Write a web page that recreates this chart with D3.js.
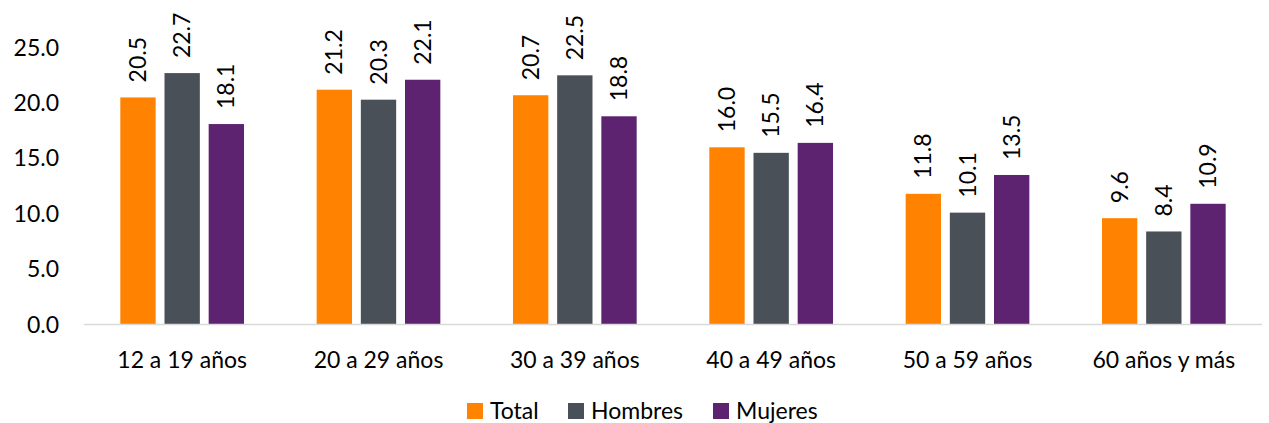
<html>
<head>
<meta charset="utf-8">
<script src="https://cdn.jsdelivr.net/npm/d3@7"></script>
<style>
body { margin: 0; background: white; }
text { font-family: Lato, "Open Sans", sans-serif; fill: #000; }
</style>
</head>
<body>
<svg width="1269" height="423"></svg>
<script>
var categories = ["12 a 19 años", "20 a 29 años", "30 a 39 años", "40 a 49 años", "50 a 59 años", "60 años y más"];
var seriesNames = ["Total", "Hombres", "Mujeres"];
var total = [20.5, 21.2, 20.7, 16.0, 11.8, 9.6];
var hombres = [22.7, 20.3, 22.5, 15.5, 10.1, 8.4];
var mujeres = [18.1, 22.1, 18.8, 16.4, 13.5, 10.9];
var yTicks = [0, 5, 10, 15, 20, 25];

var colors = {"Total": "#FF8200", "Hombres": "#4A5057", "Mujeres": "#5E2370"};
var values = {"Total": total, "Hombres": hombres, "Mujeres": mujeres};

var svg = d3.select("svg");
var left = 84, right = 1262, bottom = 324.5;
var fs = "23px";

var y = d3.scaleLinear().domain([0, 20]).range([bottom, 103]);
var x0 = d3.scaleBand().domain(categories).range([left, right]).paddingInner(0.37).paddingOuter(0.185);
var x1 = d3.scaleBand().domain(seriesNames).range([0, x0.bandwidth()]).paddingInner(0.2);

// y tick labels
svg.append("g").selectAll("text")
  .data(yTicks)
  .enter().append("text")
  .attr("x", 59)
  .attr("y", function(d) { return y(d); })
  .attr("dy", "0.35em")
  .attr("text-anchor", "end")
  .style("font-size", fs)
  .text(function(d) { return d3.format(".1f")(d); });

// bars
var rows = [];
categories.forEach(function(c, i) {
  seriesNames.forEach(function(s) { rows.push({cat: c, s: s, v: values[s][i]}); });
});

svg.append("g").selectAll("rect")
  .data(rows)
  .enter().append("rect")
  .attr("x", function(d) { return x0(d.cat) + x1(d.s); })
  .attr("y", function(d) { return y(d.v); })
  .attr("width", x1.bandwidth())
  .attr("height", function(d) { return bottom - y(d.v); })
  .style("fill", function(d) { return colors[d.s]; });

// baseline
svg.append("line")
  .attr("x1", left).attr("x2", right)
  .attr("y1", bottom).attr("y2", bottom)
  .style("stroke", "#d9d9d9").style("stroke-width", 1.5);

// value labels (rotated)
svg.append("g").selectAll("text")
  .data(rows)
  .enter().append("text")
  .attr("transform", function(d) {
    var cx = x0(d.cat) + x1(d.s) + x1.bandwidth() / 2;
    return "translate(" + cx + "," + (y(d.v) - 15) + ") rotate(-90)";
  })
  .attr("dy", "0.35em")
  .attr("text-anchor", "start")
  .style("font-size", fs)
  .text(function(d) { return d3.format(".1f")(d.v); });

// category labels
svg.append("g").selectAll("text")
  .data(categories)
  .enter().append("text")
  .attr("x", function(d) { return x0(d) + x0.bandwidth() / 2; })
  .attr("y", 368)
  .attr("text-anchor", "middle")
  .style("font-size", fs)
  .text(function(d) { return d; });

// legend
var legendX = [467, 568, 713];
var lg = svg.append("g").selectAll("g")
  .data(seriesNames)
  .enter().append("g")
  .attr("transform", function(d, i) { return "translate(" + legendX[i] + ",403)"; });
lg.append("rect").attr("width", 16).attr("height", 16)
  .style("fill", function(d) { return colors[d]; });
lg.append("text").attr("x", 23).attr("y", 16)
  .style("font-size", fs)
  .text(function(d) { return d; });
</script>
</body>
</html>
